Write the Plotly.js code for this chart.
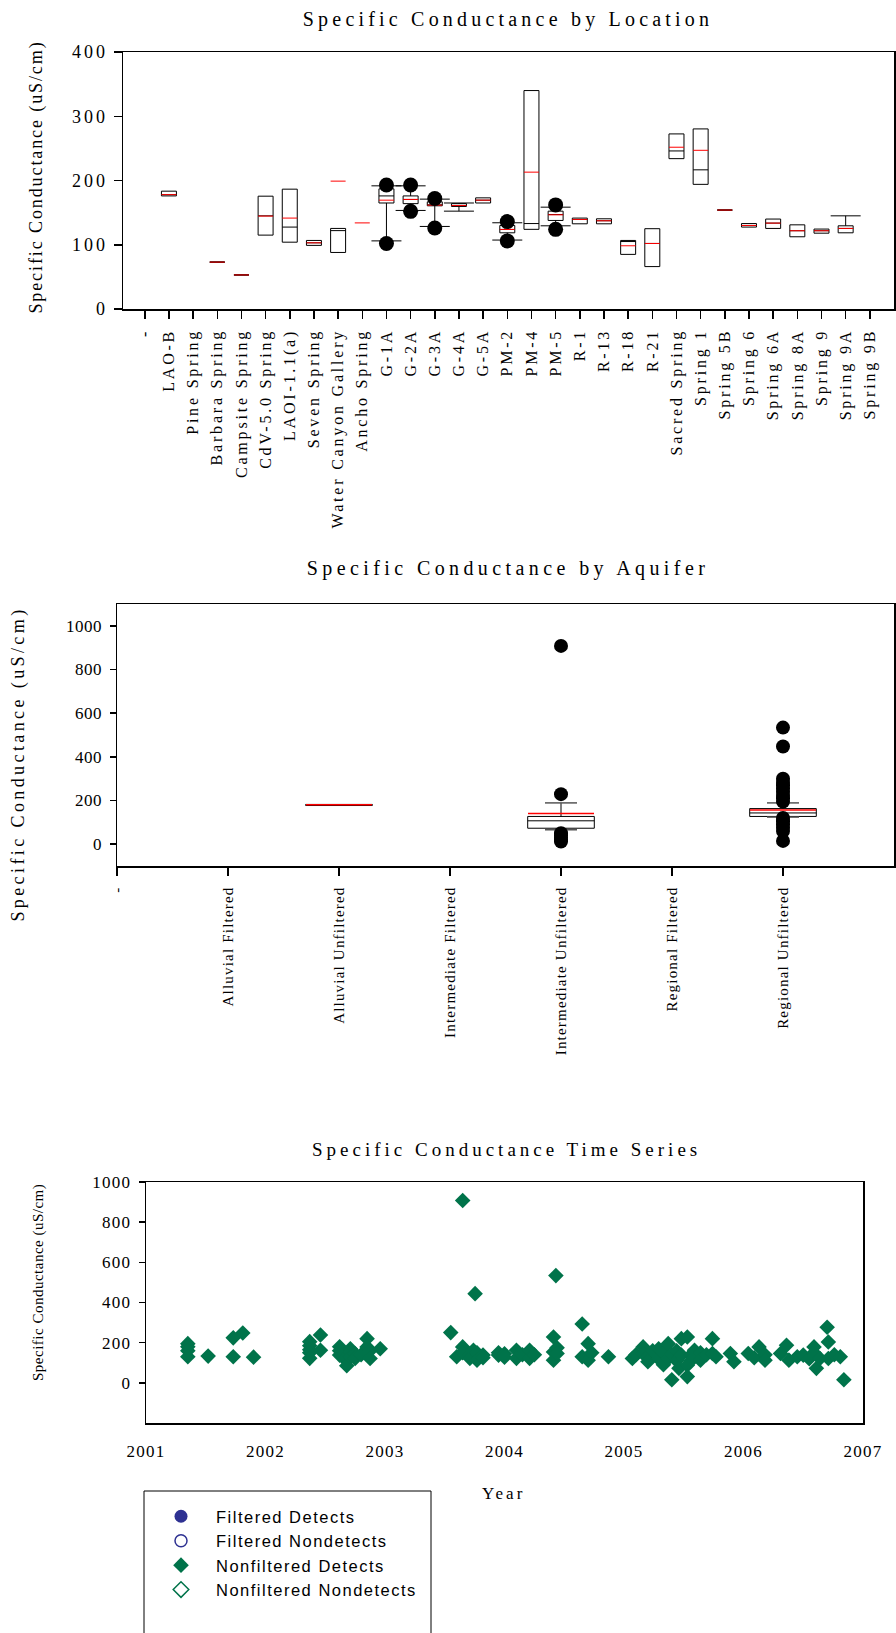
<!DOCTYPE html>
<html>
<head>
<meta charset="utf-8">
<script src="https://cdn.plot.ly/plotly-3.0.1.min.js"></script>
<style>
html,body{margin:0;padding:0;background:#ffffff;}
#chart{width:896px;height:1633px;}
.xtick text,.subplot.xy .xaxislayer-above text{letter-spacing:2.8px;}
.ytick text,.subplot.xy .yaxislayer-above text{letter-spacing:3px;}
.x2tick text,.subplot.x2y2 .xaxislayer-above text{letter-spacing:1.2px;}
.y2tick text,.subplot.x2y2 .yaxislayer-above text{letter-spacing:0.5px;}
.x3tick text,.subplot.x3y3 .xaxislayer-above text{letter-spacing:1.3px;}
.y3tick text,.subplot.x3y3 .yaxislayer-above text{letter-spacing:1.2px;}
.legendtext{letter-spacing:1.5px;}
.annotation[data-index="0"] .annotation-text{letter-spacing:4.2px;}
.annotation[data-index="1"] .annotation-text{letter-spacing:4.4px;}
.annotation[data-index="2"] .annotation-text{letter-spacing:4px;}
.annotation[data-index="3"] .annotation-text{letter-spacing:1.9px;}
.annotation[data-index="4"] .annotation-text{letter-spacing:3.4px;}
.annotation[data-index="5"] .annotation-text{letter-spacing:0.5px;}
.annotation[data-index="6"] .annotation-text{letter-spacing:3px;}
</style>
</head>
<body>
<div id="chart"></div>
<script>
// ---------------- Panel 1 : by location ----------------
const locations = ['-', 'LAO-B', 'Pine Spring', 'Barbara Spring', 'Campsite Spring', 'CdV-5.0 Spring',
  'LAOI-1.1(a)', 'Seven Spring', 'Water Canyon Gallery', 'Ancho Spring', 'G-1A', 'G-2A', 'G-3A', 'G-4A',
  'G-5A', 'PM-2', 'PM-4', 'PM-5', 'R-1', 'R-13', 'R-18', 'R-21', 'Sacred Spring', 'Spring 1', 'Spring 5B',
  'Spring 6', 'Spring 6A', 'Spring 8A', 'Spring 9', 'Spring 9A', 'Spring 9B'];

const boxLocations = ['LAO-B', 'Barbara Spring', 'Campsite Spring', 'CdV-5.0 Spring', 'LAOI-1.1(a)',
  'Seven Spring', 'Water Canyon Gallery', 'G-1A', 'G-2A', 'G-3A', 'G-4A', 'G-5A', 'PM-2', 'PM-4', 'PM-5',
  'R-1', 'R-13', 'R-18', 'R-21', 'Sacred Spring', 'Spring 1', 'Spring 5B', 'Spring 6', 'Spring 6A',
  'Spring 8A', 'Spring 9', 'Spring 9A'];
const locQ1     = [176, 73, 53, 115, 104, 99, 88, 165, 164, 160.6, 159.6, 165, 118.6, 124, 137.8, 132.6, 132.6, 85, 66, 234, 194, 154, 127.5, 125.4, 112.4, 118, 118.6];
const locMedian = [178, 73, 53, 145, 127.5, 103, 122, 176, 170.5, 162, 161, 169.4, 123.8, 133, 147, 139.4, 137.3, 105, 102, 246, 216.6, 154, 130, 133.7, 121.8, 121.8, 125.4];
const locQ3     = [183.4, 73, 53, 175.6, 186.5, 106.7, 125.4, 187, 176, 166.8, 164, 173, 130, 340, 152.3, 141.5, 140.4, 106.7, 125, 272.5, 280.3, 154, 133, 140, 131, 124.4, 129.5];
const locLower  = [176, 73, 53, 115, 104, 99, 88, 106, 153.4, 128.5, 152.3, 165, 107.3, 124, 129.5, 132.6, 132.6, 85, 66, 234, 194, 154, 127.5, 125.4, 112.4, 118, 118.6];
const locUpper  = [183.4, 73, 53, 175.6, 186.5, 106.7, 125.4, 191.7, 191.7, 171, 165, 173, 134.2, 340, 158.5, 141.5, 140.4, 106.7, 125, 272.5, 280.3, 154, 133, 140, 131, 124.4, 145];

const meanLocations = ['LAO-B', 'Barbara Spring', 'Campsite Spring', 'CdV-5.0 Spring', 'LAOI-1.1(a)',
  'Seven Spring', 'Water Canyon Gallery', 'Ancho Spring', 'G-1A', 'G-2A', 'G-3A', 'G-4A', 'G-5A', 'PM-2',
  'PM-4', 'PM-5', 'R-1', 'R-13', 'R-18', 'R-21', 'Sacred Spring', 'Spring 1', 'Spring 5B', 'Spring 6',
  'Spring 6A', 'Spring 8A', 'Spring 9', 'Spring 9A'];
const locMean = [178, 73, 53, 144.6, 141.5, 103, 199, 134, 169.4, 170.5, 161.7, 161, 169.4, 123.8, 213, 146.6, 139.4, 137.3, 98.4, 102, 251.8, 247, 154, 130, 133.7, 121.8, 121.8, 125.4];

const outlierLocations = ['G-1A', 'G-1A', 'G-2A', 'G-2A', 'G-3A', 'G-3A', 'PM-2', 'PM-2', 'PM-5', 'PM-5'];
const outlierLocValues = [193, 102, 193, 152, 172, 126, 136, 106, 162, 124];

// ---------------- Panel 2 : by aquifer ----------------
const aquifers = ['-', 'Alluvial Filtered', 'Alluvial Unfiltered', 'Intermediate Filtered',
  'Intermediate Unfiltered', 'Regional Filtered', 'Regional Unfiltered'];
const boxAquifers = ['Alluvial Unfiltered', 'Intermediate Unfiltered', 'Regional Unfiltered'];
const aqQ1     = [177, 73, 127];
const aqMedian = [180, 107, 143];
const aqQ3     = [182, 127, 163];
const aqLower  = [177, 66, 124];
const aqUpper  = [182, 189, 189];
const aqMean   = [180, 140, 156];
const outlierAquifers = ['Intermediate Unfiltered', 'Intermediate Unfiltered', 'Intermediate Unfiltered',
  'Intermediate Unfiltered', 'Intermediate Unfiltered', 'Intermediate Unfiltered', 'Intermediate Unfiltered',
  'Regional Unfiltered', 'Regional Unfiltered', 'Regional Unfiltered', 'Regional Unfiltered',
  'Regional Unfiltered', 'Regional Unfiltered', 'Regional Unfiltered', 'Regional Unfiltered',
  'Regional Unfiltered', 'Regional Unfiltered', 'Regional Unfiltered', 'Regional Unfiltered',
  'Regional Unfiltered', 'Regional Unfiltered', 'Regional Unfiltered', 'Regional Unfiltered'];
const outlierAqValues = [908, 229, 50, 40, 30, 20, 12,
  534, 447, 300, 285, 270, 255, 240, 225, 210, 195, 120, 105, 90, 75, 60, 15];

// ---------------- Panel 3 : time series ----------------
const tsYear = [2001.35, 2001.35, 2001.35, 2001.35, 2001.52, 2001.73, 2001.73, 2001.81, 2001.90,
  2002.37, 2002.37, 2002.37, 2002.37, 2002.37, 2002.46, 2002.46, 2002.62, 2002.62, 2002.62, 2002.66, 2002.66,
  2002.68, 2002.71, 2002.71, 2002.71, 2002.75, 2002.75, 2002.80, 2002.85, 2002.85, 2002.875, 2002.875, 2002.96,
  2003.55, 2003.60, 2003.65, 2003.65, 2003.65, 2003.71, 2003.71, 2003.74, 2003.754, 2003.77, 2003.77,
  2003.82, 2003.82, 2003.95, 2003.95, 2004.00, 2004.00, 2004.10, 2004.10, 2004.15, 2004.21, 2004.21, 2004.25,
  2004.41, 2004.41, 2004.41, 2004.43, 2004.44, 2004.44, 2004.65, 2004.65, 2004.70, 2004.70, 2004.73, 2004.87,
  2005.07, 2005.10, 2005.16, 2005.16, 2005.20, 2005.20, 2005.24, 2005.29, 2005.29, 2005.33, 2005.33,
  2005.37, 2005.37, 2005.40, 2005.40, 2005.44, 2005.44, 2005.46, 2005.48, 2005.48, 2005.53, 2005.53, 2005.53,
  2005.56, 2005.56, 2005.59, 2005.64, 2005.64, 2005.69, 2005.74, 2005.74, 2005.77, 2005.89, 2005.92,
  2006.04, 2006.09, 2006.13, 2006.18, 2006.18, 2006.31, 2006.36, 2006.38, 2006.45, 2006.50, 2006.55,
  2006.59, 2006.59, 2006.61, 2006.64, 2006.70, 2006.71, 2006.71, 2006.76, 2006.81, 2006.84];
const tsValue = [195, 180, 160, 130, 133, 224, 130, 248, 128,
  205, 185, 165, 150, 122, 238, 162, 180, 160, 138, 150, 120,
  85, 170, 154, 130, 145, 121, 140, 220, 179, 160, 121, 170,
  250, 130, 908, 179, 150, 138, 122, 162, 444, 150, 113,
  138, 125, 150, 138, 145, 128, 162, 122, 140, 162, 122, 140,
  228, 154, 113, 534, 175, 146, 293, 130, 195, 113, 150, 130,
  121, 140, 179, 145, 130, 105, 160, 170, 120, 150, 90,
  195, 121, 140, 15, 160, 110, 72, 220, 138, 228, 88, 31,
  138, 110, 162, 150, 113, 140, 220, 146, 130, 146, 105,
  146, 125, 179, 140, 113, 146, 187, 113, 130, 138, 120,
  179, 150, 72, 121, 277, 203, 121, 140, 130, 15];
const seriesNames = ['Filtered Detects', 'Filtered Nondetects', 'Nonfiltered Detects', 'Nonfiltered Nondetects'];
const yearTicks = [2001, 2002, 2003, 2004, 2005, 2006, 2007];

// ---------------- layout helpers ----------------
const W = 896, H = 1633;
const px = v => v / W;
const py = v => 1 - v / H;
const SERIF = 'Liberation Serif, Times New Roman, serif';
const SANS = 'Liberation Sans, Arial, sans-serif';
const GREEN = '#00734a';
const NAVY = '#2e3192';
const LINE_EW = 1.4; // plotly line-ew marker length = 1.4 * size

function capPoints(cats, q1, q3, lo, hi) {
  const cx = [], cy = [];
  cats.forEach((c, i) => {
    if (lo[i] < q1[i]) { cx.push(c); cy.push(lo[i]); }
    if (hi[i] > q3[i]) { cx.push(c); cy.push(hi[i]); }
  });
  return {cx, cy};
}
const caps1 = capPoints(boxLocations, locQ1, locQ3, locLower, locUpper);
const caps2 = capPoints(boxAquifers, aqQ1, aqQ3, aqLower, aqUpper);

const traces = [
  // panel 1
  {type: 'box', x: boxLocations, q1: locQ1, median: locMedian, q3: locQ3,
   lowerfence: locLower, upperfence: locUpper, xaxis: 'x', yaxis: 'y',
   width: 0.62, whiskerwidth: 0, boxpoints: false, fillcolor: 'rgba(255,255,255,0)',
   line: {color: '#000', width: 1}, showlegend: false, hoverinfo: 'skip'},
  {type: 'scatter', mode: 'markers', x: caps1.cx, y: caps1.cy, xaxis: 'x', yaxis: 'y',
   marker: {symbol: 'line-ew', size: 30 / LINE_EW, color: '#000', line: {color: '#000', width: 1}},
   showlegend: false, hoverinfo: 'skip'},
  {type: 'scatter', mode: 'markers', x: meanLocations, y: locMean, xaxis: 'x', yaxis: 'y',
   marker: {symbol: 'line-ew', size: 15 / LINE_EW, color: '#ff0000', line: {color: '#ff0000', width: 1}},
   showlegend: false, hoverinfo: 'skip'},
  {type: 'scatter', mode: 'markers', x: outlierLocations, y: outlierLocValues, xaxis: 'x', yaxis: 'y',
   marker: {symbol: 'circle', size: 15, color: '#000'}, showlegend: false, hoverinfo: 'skip'},
  // panel 2
  {type: 'box', x: boxAquifers, q1: aqQ1, median: aqMedian, q3: aqQ3,
   lowerfence: aqLower, upperfence: aqUpper, xaxis: 'x2', yaxis: 'y2',
   width: 0.6, whiskerwidth: 0, boxpoints: false, fillcolor: 'rgba(255,255,255,0)',
   line: {color: '#000', width: 1}, showlegend: false, hoverinfo: 'skip'},
  {type: 'scatter', mode: 'markers', x: caps2.cx, y: caps2.cy, xaxis: 'x2', yaxis: 'y2',
   marker: {symbol: 'line-ew', size: 32 / LINE_EW, color: '#555', line: {color: '#555', width: 1.5}},
   showlegend: false, hoverinfo: 'skip'},
  {type: 'scatter', mode: 'markers', x: boxAquifers, y: aqMean, xaxis: 'x2', yaxis: 'y2',
   marker: {symbol: 'line-ew', size: 66 / LINE_EW, color: '#ff0000', line: {color: '#ff0000', width: 1.5}},
   showlegend: false, hoverinfo: 'skip'},
  {type: 'scatter', mode: 'markers', x: outlierAquifers, y: outlierAqValues, xaxis: 'x2', yaxis: 'y2',
   marker: {symbol: 'circle', size: 14, color: '#000'}, showlegend: false, hoverinfo: 'skip'},
  // panel 3 (filtered and nondetect series have no values)
  {type: 'scatter', mode: 'markers', name: seriesNames[0], x: [null], y: [null], xaxis: 'x3', yaxis: 'y3',
   marker: {symbol: 'circle', size: 13, color: NAVY}, hoverinfo: 'skip'},
  {type: 'scatter', mode: 'markers', name: seriesNames[1], x: [null], y: [null], xaxis: 'x3', yaxis: 'y3',
   marker: {symbol: 'circle-open', size: 12, color: NAVY, line: {color: NAVY, width: 1.5}}, hoverinfo: 'skip'},
  {type: 'scatter', mode: 'markers', name: seriesNames[2], x: tsYear, y: tsValue, xaxis: 'x3', yaxis: 'y3',
   marker: {symbol: 'diamond', size: 12, color: GREEN}, hoverinfo: 'skip'},
  {type: 'scatter', mode: 'markers', name: seriesNames[3], x: [null], y: [null], xaxis: 'x3', yaxis: 'y3',
   marker: {symbol: 'diamond-open', size: 12, color: GREEN, line: {color: GREEN, width: 1.5}}, hoverinfo: 'skip'}
];

const axBase = {showline: true, linecolor: '#000', linewidth: 1.5, mirror: true, showgrid: false,
  zeroline: false, tickcolor: '#000', tickwidth: 1.5};

function ann(text, x, y, size, angle) {
  return {text: text, xref: 'paper', yref: 'paper', x: px(x), y: py(y), xanchor: 'center',
    yanchor: 'middle', showarrow: false, textangle: angle || 0, font: {family: SERIF, size: size, color: '#000'}};
}

const layout = {
  width: W, height: H, margin: {l: 0, r: 0, t: 0, b: 0},
  paper_bgcolor: '#fff', plot_bgcolor: '#fff',
  font: {family: SERIF, color: '#000', size: 16},
  showlegend: true,
  xaxis: Object.assign({}, axBase, {domain: [px(123), px(894)], anchor: 'y', type: 'category',
    categoryorder: 'array', categoryarray: locations, tickmode: 'array', tickvals: locations,
    ticktext: locations, range: [-0.9, 31], ticks: 'outside', ticklen: 8, tickangle: -90,
    ticklabelstandoff: 4, tickfont: {family: SERIF, size: 16}}),
  yaxis: Object.assign({}, axBase, {domain: [py(309), py(52)], anchor: 'x', range: [0, 400], dtick: 100,
    ticks: 'outside', ticklen: 8, ticklabelstandoff: 2, tickfont: {family: SERIF, size: 18}}),
  xaxis2: Object.assign({}, axBase, {domain: [px(117), px(894)], anchor: 'y2', type: 'category',
    categoryorder: 'array', categoryarray: aquifers, tickmode: 'array', tickvals: aquifers,
    ticktext: aquifers, range: [0, 7], ticks: 'outside', ticklen: 8, tickangle: -90,
    ticklabelstandoff: 5, tickfont: {family: SERIF, size: 15}}),
  yaxis2: Object.assign({}, axBase, {domain: [py(866), py(604)], anchor: 'x2', range: [-100, 1100],
    tickvals: [0, 200, 400, 600, 800, 1000], ticks: 'outside', ticklen: 6, ticklabelstandoff: 4,
    tickfont: {family: SERIF, size: 17}}),
  xaxis3: Object.assign({}, axBase, {domain: [px(146), px(863)], anchor: 'y3', range: [2001, 2007],
    tickvals: yearTicks, ticks: '', ticklabelstandoff: 12, tickfont: {family: SERIF, size: 17}}),
  yaxis3: Object.assign({}, axBase, {domain: [py(1423), py(1182)], anchor: 'x3', range: [-200, 1000],
    tickvals: [0, 200, 400, 600, 800, 1000], ticks: 'outside', ticklen: 6, ticklabelstandoff: 4,
    tickfont: {family: SERIF, size: 17}}),
  legend: {x: px(146), y: py(1499), xanchor: 'left', yanchor: 'top', bgcolor: 'rgba(0,0,0,0)',
    borderwidth: 0, font: {family: SANS, size: 16.5, color: '#000'}, itemwidth: 60,
    traceorder: 'normal', itemclick: false, itemdoubleclick: false},
  shapes: [
    {type: 'rect', xref: 'paper', yref: 'paper', x0: px(144), x1: px(431), y0: py(1700), y1: py(1491),
     line: {color: '#000', width: 1}, fillcolor: 'rgba(0,0,0,0)', layer: 'above'}
  ],
  annotations: [
    ann('Specific Conductance by Location', 508, 19, 20),
    ann('Specific Conductance by Aquifer', 508, 568, 20),
    ann('Specific Conductance Time Series', 506, 1149, 19),
    ann('Specific Conductance (uS/cm)', 37, 177, 18, -90),
    ann('Specific Conductance (uS/cm)', 18, 764, 18, -90),
    ann('Specific Conductance (uS/cm)', 38, 1283, 15, -90),
    ann('Year', 504, 1493, 17)
  ]
};

Plotly.newPlot('chart', traces, layout, {displayModeBar: false, staticPlot: true});
</script>
</body>
</html>
